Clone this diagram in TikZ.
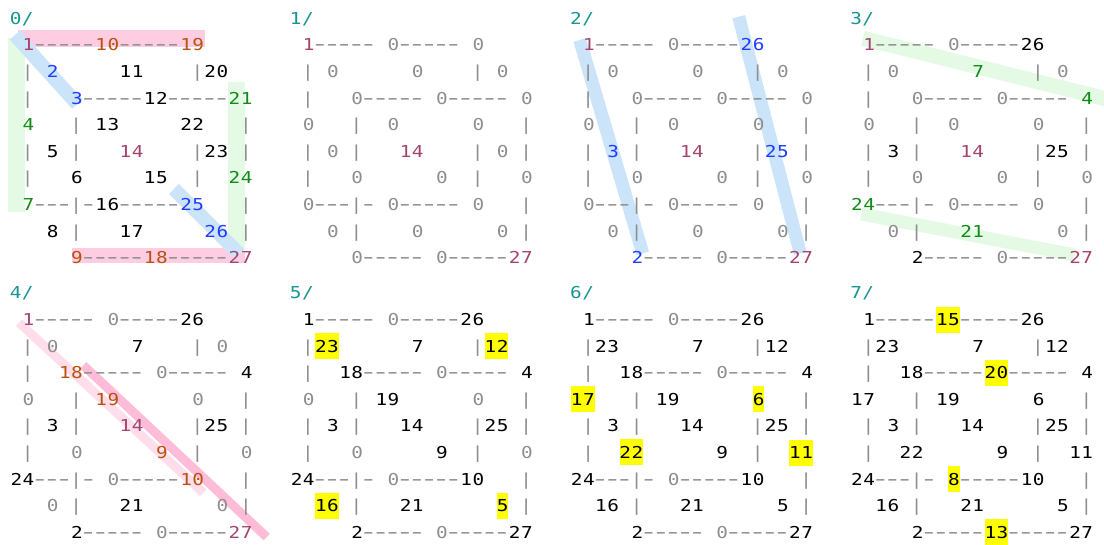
\documentclass[tikz,border=0pt]{standalone}
\usepackage{graphicx}
\usepackage{fontspec}
\newfontfamily\monof[FakeStretch=1.18]{DejaVu Sans Mono}
\definecolor{cM}{HTML}{A4436F}
\definecolor{cO}{HTML}{B9520C}
\definecolor{cB}{HTML}{1E3CFF}
\definecolor{cN}{HTML}{0F8C14}
\definecolor{cT}{HTML}{169690}
\definecolor{cG}{HTML}{8E8E8E}
\definecolor{cK}{HTML}{000000}
\definecolor{cY}{HTML}{FFFF00}
\definecolor{bP}{HTML}{FFCDE1}
\definecolor{bPd}{HTML}{FFBCD8}
\definecolor{bPl}{HTML}{FFDDEB}
\definecolor{bB}{HTML}{CCE4FA}
\definecolor{bN}{HTML}{E4FAE4}
\newlength\cellw
\setlength\cellw{12.12pt}
\def\ycol{cY}
\makeatletter
\def\spreadc#1{\spreadc@i#1\relax}
\def\spreadc@i#1{\ifx#1\relax\else
  \ifx#1-\makebox[\cellw][c]{\scalebox{1.6}[1.15]{-}}\else\makebox[\cellw][c]{#1}\fi
  \expandafter\spreadc@i\fi}
\makeatother
\tikzset{
  tok/.style={inner ysep=0pt, inner xsep=-0.4pt, outer sep=0pt, font=\monof\fontsize{16.4}{19}\selectfont},
  frm/.style={tok, anchor=base west, text=cG},
  num/.style={tok, anchor=base east},
  hlband/.style={line width=#1, line cap=butt},
}
\newcommand\drawpanel[4]{%
\begin{scope}[shift={(#2,#3)}]
  \node[frm, text=cT] (p#1t) at ({-0.5*12.12},5.9) {\spreadc{#1/}};
  \foreach \fr/\fc/\fs [count=\n] in {1/2/-----,1/9/-----,2/1/|,2/15/|,3/1/|,3/6/-----,3/13/-----,4/5/|,4/19/|,5/1/|,5/5/|,5/15/|,5/19/|,6/1/|,6/15/|,7/2/---,7/5/|-,7/9/-----,7/19/|,8/5/|,8/19/|,9/6/-----,9/13/-----}
    \node[frm] (p#1f\n) at ({(\fc-0.5)*12.12},{\fr*26.6+5.9}) {\expandafter\spreadc\expandafter{\fs}};
  \foreach \fv/\fk/\ff [count=\n from 0] in {#4}{
    \pgfmathtruncatemacro\rowi{int(\n/3)+1}
    \pgfmathtruncatemacro\colend{mod(\rowi-1,3)*2+7*mod(\n,3)+2}
    \def\mh{0pt}\ifx\ff\ycol\def\mh{26pt}\fi
    \node[num, text=\fk, fill=\ff, minimum height=\mh] (p#1n\n) at ({(\colend-0.5)*12.12},{\rowi*26.6+5.9}) {\expandafter\spreadc\expandafter{\fv}};
  }
\end{scope}}
\begin{document}
\begin{tikzpicture}[x=1pt,y=-1pt]
\useasboundingbox (0,0) rectangle (1104,545);
\fill[white] (0,0) rectangle (1104,545);
% ---- highlight bands ----
\coordinate (a1) at (18,38.3);   \coordinate (a2) at (205,38.3);
\coordinate (a3) at (71.7,255.8); \coordinate (a4) at (245,255.8);
\coordinate (a5) at (16.7,38);   \coordinate (a6) at (16.7,211.7);
\coordinate (a7) at (236.7,81.7); \coordinate (a8) at (236.7,253.3);
\coordinate (a9) at (15,35);     \coordinate (a10) at (77.3,104);
\coordinate (a11) at (174,189);  \coordinate (a12) at (239.3,254);
\draw[hlband=16.5, draw=bP] (a1) -- (a2);
\draw[hlband=15, draw=bP] (a3) -- (a4);
\draw[hlband=16.7, draw=bN] (a5) -- (a6);
\draw[hlband=16.7, draw=bN] (a7) -- (a8);
\draw[hlband=14, draw=bB] (a9) -- (a10);
\draw[hlband=14, draw=bB] (a11) -- (a12);
\coordinate (c1) at (579.7,40);  \coordinate (c2) at (642.7,253.3);
\coordinate (c3) at (738.7,16.7); \coordinate (c4) at (800.3,253.3);
\draw[hlband=13, draw=bB] (c1) -- (c2);
\draw[hlband=13, draw=bB] (c3) -- (c4);
\coordinate (d1) at (863,38.3);  \coordinate (d2) at (1110,99.8);
\coordinate (d3) at (861.3,214); \coordinate (d4) at (1074.7,255);
\draw[hlband=15, draw=bN] (d1) -- (d2);
\draw[hlband=13, draw=bN] (d3) -- (d4);
\coordinate (e1) at (19,322.7);  \coordinate (e2) at (203.3,492.7);
\coordinate (e3) at (83.3,365.3); \coordinate (e4) at (266.7,537);
\draw[hlband=9, draw=bPl] (e1) -- (e2);
\draw[hlband=9, draw=bPd] (e3) -- (e4);
% ---- panels ----
\drawpanel{0}{16}{18.4}{1/cM/none,10/cO/none,19/cO/none,
 2/cB/none,11/cK/none,20/cK/none,
 3/cB/none,12/cK/none,21/cN/none,
 4/cN/none,13/cK/none,22/cK/none,
 5/cK/none,14/cM/none,23/cK/none,
 6/cK/none,15/cK/none,24/cN/none,
 7/cN/none,16/cK/none,25/cB/none,
 8/cK/none,17/cK/none,26/cB/none,
 9/cO/none,18/cO/none,27/cM/none}
\drawpanel{1}{296.2}{18.4}{1/cM/none,0/cG/none,0/cG/none,
 0/cG/none,0/cG/none,0/cG/none,
 0/cG/none,0/cG/none,0/cG/none,
 0/cG/none,0/cG/none,0/cG/none,
 0/cG/none,14/cM/none,0/cG/none,
 0/cG/none,0/cG/none,0/cG/none,
 0/cG/none,0/cG/none,0/cG/none,
 0/cG/none,0/cG/none,0/cG/none,
 0/cG/none,0/cG/none,27/cM/none}
\drawpanel{2}{576.4}{18.4}{1/cM/none,0/cG/none,26/cB/none,
 0/cG/none,0/cG/none,0/cG/none,
 0/cG/none,0/cG/none,0/cG/none,
 0/cG/none,0/cG/none,0/cG/none,
 3/cB/none,14/cM/none,25/cB/none,
 0/cG/none,0/cG/none,0/cG/none,
 0/cG/none,0/cG/none,0/cG/none,
 0/cG/none,0/cG/none,0/cG/none,
 2/cB/none,0/cG/none,27/cM/none}
\drawpanel{3}{856.6}{18.4}{1/cM/none,0/cG/none,26/cK/none,
 0/cG/none,7/cN/none,0/cG/none,
 0/cG/none,0/cG/none,4/cN/none,
 0/cG/none,0/cG/none,0/cG/none,
 3/cK/none,14/cM/none,25/cK/none,
 0/cG/none,0/cG/none,0/cG/none,
 24/cN/none,0/cG/none,0/cG/none,
 0/cG/none,21/cN/none,0/cG/none,
 2/cK/none,0/cG/none,27/cM/none}
\drawpanel{4}{16}{293}{1/cM/none,0/cG/none,26/cK/none,
 0/cG/none,7/cK/none,0/cG/none,
 18/cO/none,0/cG/none,4/cK/none,
 0/cG/none,19/cO/none,0/cG/none,
 3/cK/none,14/cM/none,25/cK/none,
 0/cG/none,9/cO/none,0/cG/none,
 24/cK/none,0/cG/none,10/cO/none,
 0/cG/none,21/cK/none,0/cG/none,
 2/cK/none,0/cG/none,27/cM/none}
\drawpanel{5}{296.2}{293}{1/cK/none,0/cG/none,26/cK/none,
 23/cK/cY,7/cK/none,12/cK/cY,
 18/cK/none,0/cG/none,4/cK/none,
 0/cG/none,19/cK/none,0/cG/none,
 3/cK/none,14/cK/none,25/cK/none,
 0/cG/none,9/cK/none,0/cG/none,
 24/cK/none,0/cG/none,10/cK/none,
 16/cK/cY,21/cK/none,5/cK/cY,
 2/cK/none,0/cG/none,27/cK/none}
\drawpanel{6}{576.4}{293}{1/cK/none,0/cG/none,26/cK/none,
 23/cK/none,7/cK/none,12/cK/none,
 18/cK/none,0/cG/none,4/cK/none,
 17/cK/cY,19/cK/none,6/cK/cY,
 3/cK/none,14/cK/none,25/cK/none,
 22/cK/cY,9/cK/none,11/cK/cY,
 24/cK/none,0/cG/none,10/cK/none,
 16/cK/none,21/cK/none,5/cK/none,
 2/cK/none,0/cG/none,27/cK/none}
\drawpanel{7}{856.6}{293}{1/cK/none,15/cK/cY,26/cK/none,
 23/cK/none,7/cK/none,12/cK/none,
 18/cK/none,20/cK/cY,4/cK/none,
 17/cK/none,19/cK/none,6/cK/none,
 3/cK/none,14/cK/none,25/cK/none,
 22/cK/none,9/cK/none,11/cK/none,
 24/cK/none,8/cK/cY,10/cK/none,
 16/cK/none,21/cK/none,5/cK/none,
 2/cK/none,13/cK/cY,27/cK/none}
\end{tikzpicture}
\end{document}
